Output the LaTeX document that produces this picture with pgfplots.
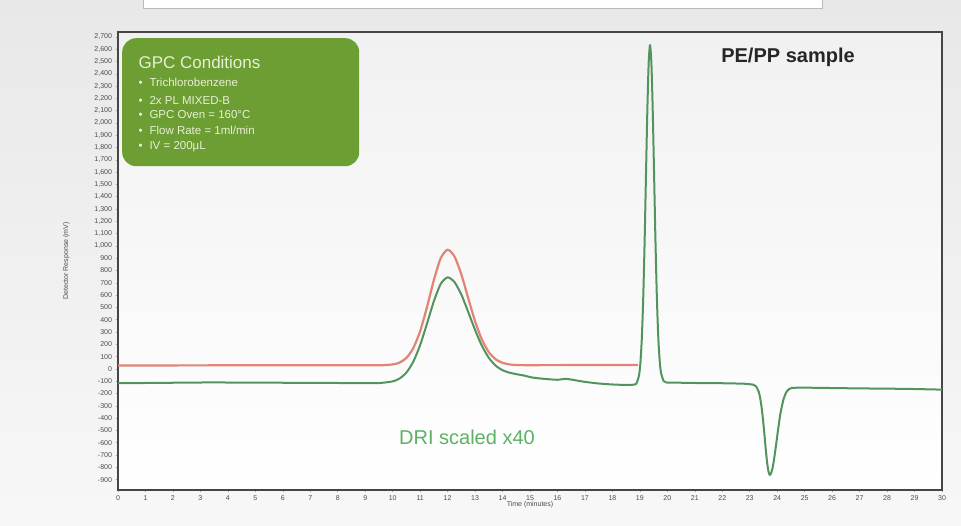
\documentclass[border=0pt]{standalone}
\usepackage{fontspec}
\setmainfont{Liberation Sans}
\usepackage{pgfplots}
\pgfplotsset{compat=1.18}

\definecolor{drired}{RGB}{226,132,116}
\definecolor{drigreen}{RGB}{82,148,94}
\definecolor{boxgreen}{RGB}{108,158,52}
\definecolor{boxtext}{RGB}{232,240,212}
\definecolor{txtgreen}{RGB}{92,178,100}

% Red trace (RI)
\pgfplotstableread{
t v
0 28
2 29
5 30
8 30
9.5 30
10.0 37
10.25 52
10.5 90
10.75 169
11.0 307
11.25 503
11.5 723
11.75 901
12.0 970
12.25 915
12.5 769
12.75 576
13.0 388
13.25 238
13.5 137
13.75 79
14.0 50
14.25 37
14.5 32
15 31
17 32
18.93 33
}\redtrace

% Green trace (DRI scaled x40)
\pgfplotstableread{
t v
0 -115
1 -114
2 -112
3 -110
4 -110
5 -111
6 -112
7 -113
8 -114
9 -115
9.5 -115
10.0 -101
10.25 -78
10.5 -29
10.75 59
11.0 194
11.25 369
11.5 551
11.75 692
12.0 745
12.25 707
12.5 605
12.75 464
13.0 317
13.25 188
13.5 91
13.75 27
14.0 -10
14.25 -30
14.5 -42
14.75 -52
15.1 -70
15.5 -80
16.0 -88
16.3 -80
16.6 -90
17.0 -105
17.5 -118
18.0 -126
18.5 -130
18.75 -128
18.87 -119
18.97 -51
19.02 52
19.07 243
19.12 558
19.17 1006
19.22 1548
19.27 2084
19.32 2485
19.37 2634
19.42 2486
19.47 2088
19.52 1556
19.57 1018
19.62 573
19.67 260
19.72 70
19.77 -32
19.87 -99
19.97 -110
20.5 -112
21 -114
22 -116
22.8 -120
23.13 -128
23.23 -141
23.33 -187
23.38 -236
23.43 -308
23.48 -405
23.53 -521
23.58 -645
23.63 -755
23.68 -832
23.73 -862
23.78 -846
23.83 -805
23.88 -743
23.93 -665
23.98 -581
24.03 -496
24.08 -416
24.13 -347
24.23 -246
24.33 -190
24.43 -164
24.53 -154
25 -152
26 -155
27 -158
28 -160
29 -163
30 -168
}\greentrace

\begin{document}
\begin{tikzpicture}[x=1pt,y=1pt]
\useasboundingbox (0,0) rectangle (961,526);
\fill[top color=gray!18, bottom color=gray!6] (0,0) rectangle (961,526);
\fill[white, draw=gray!55, line width=0.8pt] (143,518) rectangle (822,540);

\begin{axis}[
    at={(118pt,36pt)}, anchor=south west,
    scale only axis, width=824pt, height=458pt,
    xmin=0, xmax=30, ymin=-984, ymax=2740,
    xtick={0,1,...,30},
    ytick={-900,-800,...,2700},
    tick pos=left,
    tick align=outside,
    major tick length=2.5pt,
    tick style={gray!70, line width=0.6pt},
    axis line style={gray!55!black, line width=1.2pt},
    axis background/.style={top color=gray!11, bottom color=white},
    ticklabel style={font=\fontsize{7}{8}\selectfont, text=gray!60!black},
    /pgf/number format/assume math mode=true,
    yticklabel style={/pgf/number format/.cd, fixed, 1000 sep={,}},
    xlabel={Time (minutes)},
    ylabel={Detector Response (mV)},
    xlabel style={font=\fontsize{7}{8}\selectfont, text=gray!60!black, yshift=6pt},
    ylabel style={font=\fontsize{7}{8}\selectfont, text=gray!60!black, yshift=18pt},
    clip=true,
]
\addplot[drired, line width=2.2pt, line join=round, smooth, tension=0.4] table[x=t, y=v] {\redtrace};
\addplot[drigreen, line width=2pt, line join=round, smooth, tension=0.4] table[x=t, y=v] {\greentrace};
\end{axis}

% GPC conditions box
\node[fill=boxgreen, rounded corners=14pt, minimum width=237pt, minimum height=128pt,
      anchor=north west, inner sep=0pt] at (122,488) {};
\node[anchor=west, text=boxtext, font=\fontsize{17}{20}\selectfont] at (135,464) {GPC Conditions};
\begin{scope}[every node/.style={anchor=west, text=boxtext, font=\fontsize{11.5}{13}\selectfont}]
\node at (135,444) {•\hspace{7pt}Trichlorobenzene};
\node at (135,426) {•\hspace{7pt}2x PL MIXED-B};
\node at (135,411) {•\hspace{7pt}GPC Oven = 160°C};
\node at (135,396) {•\hspace{7pt}Flow Rate = 1ml/min};
\node at (135,379) {•\hspace{7pt}IV = 200µL};
\end{scope}

\node[font=\bfseries\fontsize{20}{24}\selectfont, text=gray!30!black] at (788,469) {PE/PP sample};
\node[font=\fontsize{20}{24}\selectfont, text=txtgreen] at (467,89) {DRI scaled x40};
\end{tikzpicture}
\end{document}
